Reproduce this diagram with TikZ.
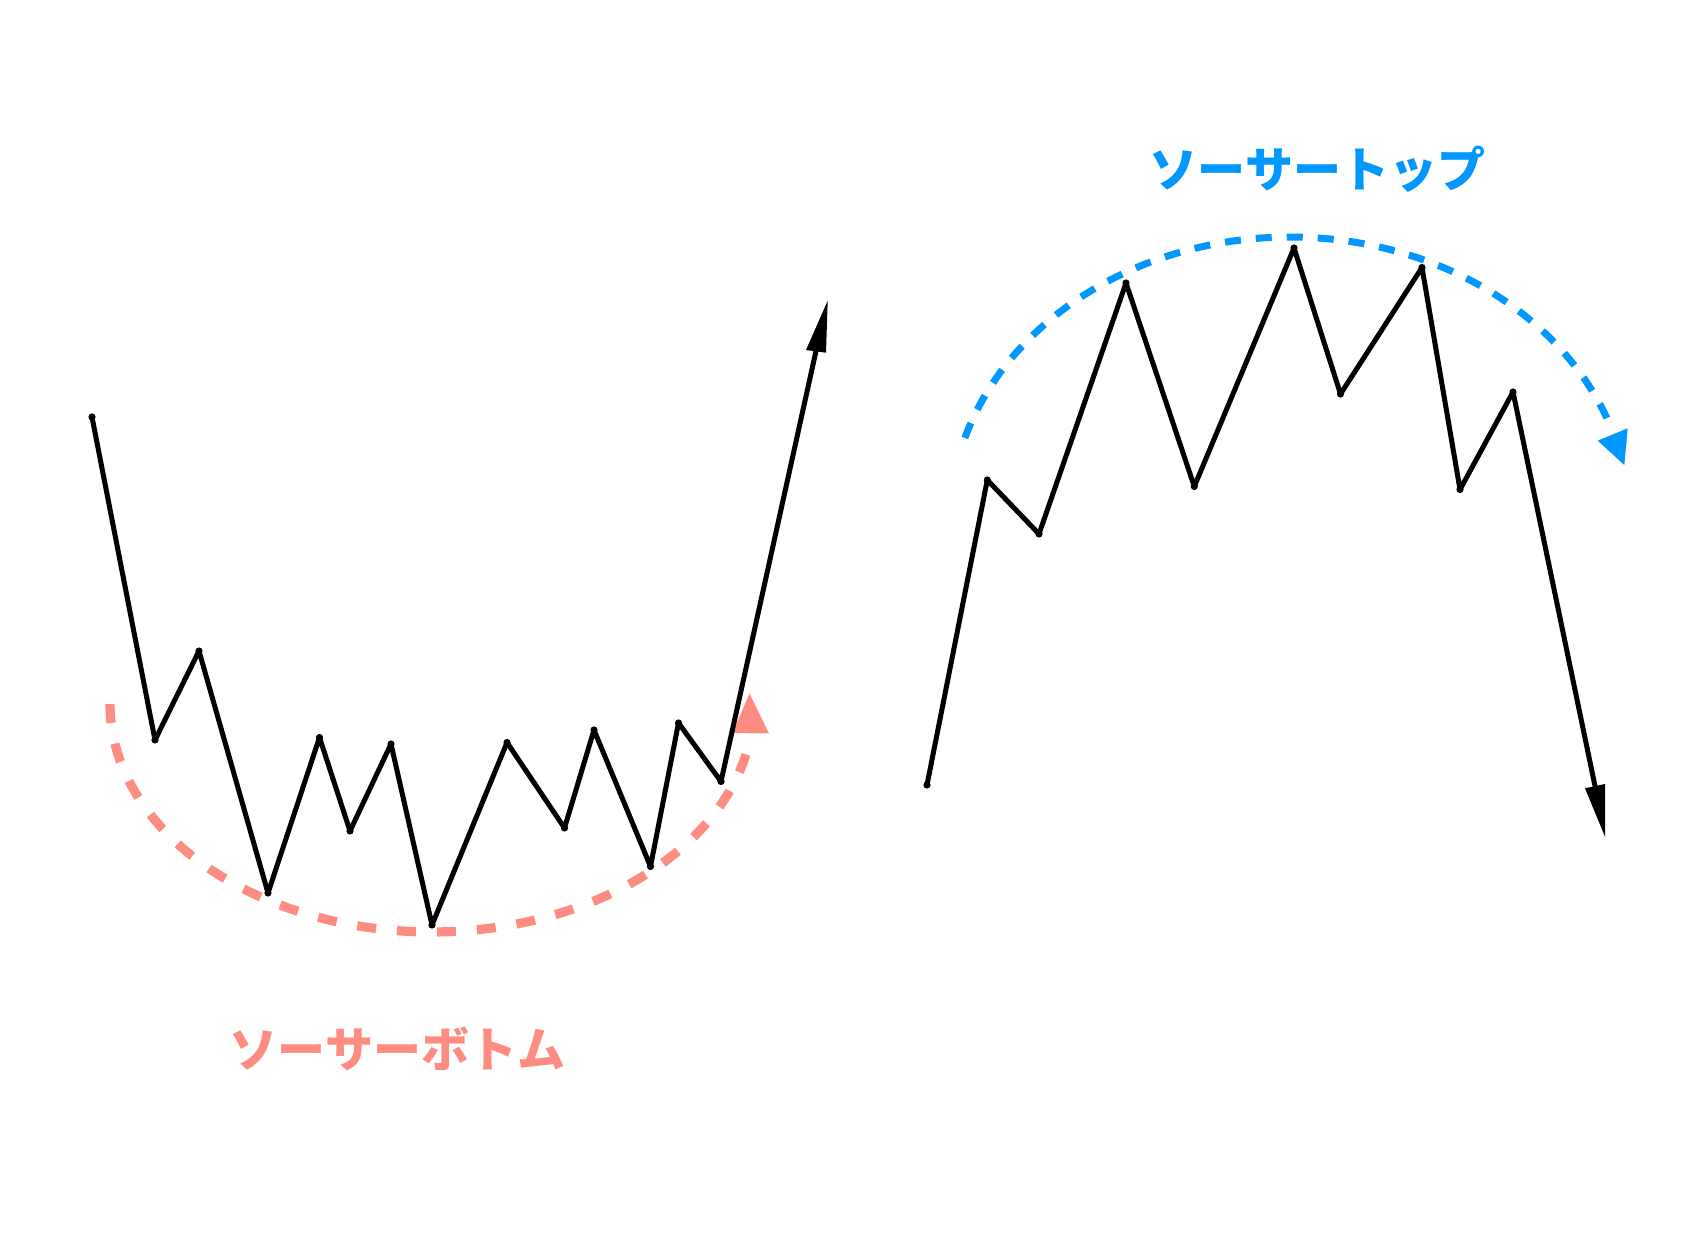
\documentclass[tikz,border=0pt]{standalone}
\usepackage{fontspec}
\newfontfamily\cjk{Noto Sans CJK JP}
\definecolor{saucerpink}{HTML}{FF8C82}
\definecolor{saucerblue}{HTML}{0098FF}
\begin{document}
\begin{tikzpicture}[x=0.5pt,y=-0.5pt,
  price/.style={line width=2.5pt, line join=round, line cap=round, draw=black},
  vdot/.style={fill=black},
  tiphead/.style={fill=black},
  pinkarc/.style={draw=saucerpink, line width=4.6pt, dash pattern=on 9.5pt off 10.5pt},
  bluearc/.style={draw=saucerblue, line width=3.5pt, dash pattern=on 8pt off 7.5pt},
  label/.style={inner sep=0pt, font=\cjk\bfseries\fontsize{24pt}{24pt}\selectfont}]
\useasboundingbox[fill=white] (0,0) rectangle (1704,1240);

% ---- dashed arcs (drawn first, below the price lines)
\draw[pinkarc] plot[domain=180:8, samples=120] ({432+322*cos(\x)},{704+228*sin(\x)});
\fill[saucerpink] (749.5,693.5) -- (732.5,733) -- (769,733.5) -- cycle;

\draw[bluearc] plot[domain=163:19, samples=120] ({1290+340*cos(\x)},{521-284*sin(\x)});
\fill[saucerblue] (1624.3,465) -- (1597.7,440.7) -- (1627.7,428.3) -- cycle;

% ---- left chart (saucer bottom)
\coordinate (l1) at (92,417);
\coordinate (l2) at (155,740);
\coordinate (l3) at (199,651);
\coordinate (l4) at (268,893);
\coordinate (l5) at (319.5,737.5);
\coordinate (l6) at (350,831);
\coordinate (l7) at (391,744);
\coordinate (l8) at (432,925);
\coordinate (l9) at (507,742.5);
\coordinate (l10) at (564.5,828);
\coordinate (l11) at (594,730);
\coordinate (l12) at (650.5,866.5);
\coordinate (l13) at (678.5,723);
\coordinate (l14) at (721,781.5);
\coordinate (l15) at (816,351);
\coordinate (lt1) at (827.7,300.7);
\coordinate (lt2) at (806,350);
\coordinate (lt3) at (826,352.7);

\draw[price] (l1) -- (l2) -- (l3) -- (l4) -- (l5) -- (l6) -- (l7) -- (l8)
  -- (l9) -- (l10) -- (l11) -- (l12) -- (l13) -- (l14) -- (l15);
\foreach \p in {l1,l2,l3,l4,l5,l6,l7,l8,l9,l10,l11,l12,l13,l14}
  \fill[vdot] (\p) circle[radius=3.6];
\fill[tiphead] (lt1) -- (lt2) -- (lt3) -- cycle;

% ---- right chart (saucer top)
\coordinate (r1) at (927,785);
\coordinate (r2) at (987.3,480);
\coordinate (r3) at (1039,534);
\coordinate (r4) at (1126,283);
\coordinate (r5) at (1194.3,486.5);
\coordinate (r6) at (1294,248);
\coordinate (r7) at (1340.5,394);
\coordinate (r8) at (1422,267.5);
\coordinate (r9) at (1460,489.5);
\coordinate (r10) at (1513,392);
\coordinate (r11) at (1595,786);
\coordinate (rt1) at (1605,836.7);
\coordinate (rt2) at (1585,788.3);
\coordinate (rt3) at (1605,784);

\draw[price] (r1) -- (r2) -- (r3) -- (r4) -- (r5) -- (r6) -- (r7) -- (r8)
  -- (r9) -- (r10) -- (r11);
\foreach \p in {r1,r2,r3,r4,r5,r6,r7,r8,r9,r10}
  \fill[vdot] (\p) circle[radius=3.6];
\fill[tiphead] (rt1) -- (rt2) -- (rt3) -- cycle;

% ---- labels
\node[label, text=saucerblue] (toplabel) at (1317.5,169) {ソーサートップ};
\node[label, text=saucerpink] (bottomlabel) at (397.5,1049) {ソーサーボトム};
\end{tikzpicture}
\end{document}
